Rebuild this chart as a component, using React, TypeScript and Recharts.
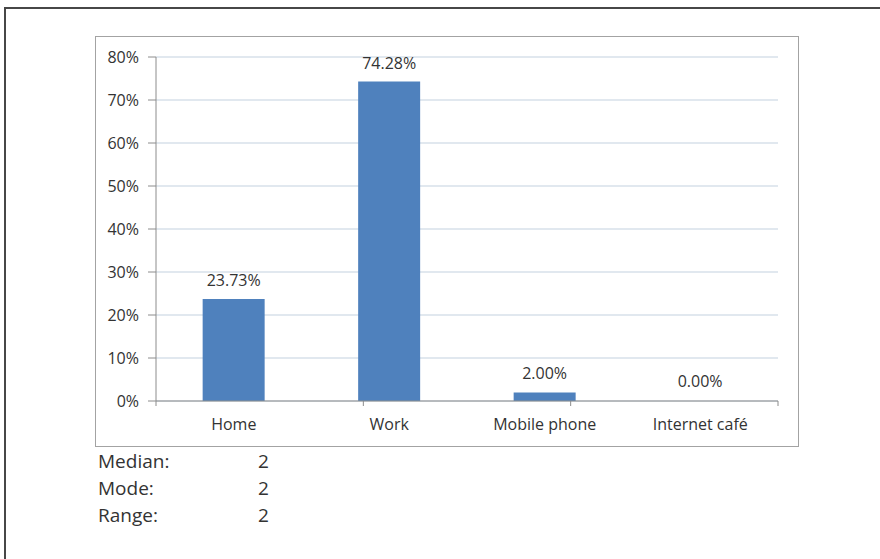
import React from "react";
import {
  BarChart,
  Bar,
  XAxis,
  YAxis,
  CartesianGrid,
  LabelList,
  Cell,
} from "recharts";

const categories = ["Home", "Work", "Mobile phone", "Internet café"];
const shares = [0.2373, 0.7428, 0.02, 0.0];
const yTicks = [0, 0.1, 0.2, 0.3, 0.4, 0.5, 0.6, 0.7, 0.8];
const statLabels = ["Median:", "Mode:", "Range:"];
const statValues = ["2", "2", "2"];

const data = categories.map((name, i) => ({ name, value: shares[i] }));
const boundaryTicks = categories.map((_, i) => i).concat(categories.length);

const TEXT = "#333333";
const FONT = '"Open Sans", sans-serif';

const pct0 = (v: number) => `${Math.round(v * 100)}%`;
const pct2 = (v: any) => `${(Number(v) * 100).toFixed(2)}%`;

export default function App() {
  return (
    <div
      style={{
        position: "absolute",
        left: 0,
        top: 0,
        width: 880,
        height: 559,
        background: "#ffffff",
        overflow: "hidden",
        fontFamily: FONT,
      }}
    >
      {/* outer frame (top and left edges) */}
      <div
        style={{
          position: "absolute",
          left: 4,
          top: 7,
          width: 900,
          height: 600,
          borderTop: "2px solid #474747",
          borderLeft: "2px solid #474747",
        }}
      />
      {/* chart area border */}
      <div
        style={{
          position: "absolute",
          left: 95,
          top: 36,
          width: 702,
          height: 409,
          border: "1px solid #a3a3a3",
        }}
      />
      <div style={{ position: "absolute", left: 95, top: 36 }}>
        <BarChart
          width={703}
          height={410}
          data={data}
          margin={{ top: 21, right: 20, left: 0, bottom: 0 }}
          barCategoryGap="30%"
          style={{ fontFamily: FONT }}
        >
          <CartesianGrid
            xAxisId="cat"
            vertical={false}
            stroke="#c3d1df"
            strokeWidth={1}
          />
          <XAxis
            xAxisId="bounds"
            type="number"
            domain={[0, categories.length]}
            ticks={boundaryTicks}
            allowDataOverflow
            height={1}
            tickFormatter={() => ""}
            tick={{ fontSize: 1 }}
            tickSize={5}
            axisLine={{ stroke: "#8c8c8c" }}
            tickLine={{ stroke: "#8c8c8c" }}
          />
          <XAxis
            xAxisId="cat"
            dataKey="name"
            height={44}
            tickLine={false}
            tickSize={5}
            tickMargin={12}
            axisLine={false}
            tick={{ fill: TEXT, fontSize: 16, fontFamily: FONT }}
            interval={0}
          />
          <YAxis
            width={61}
            domain={[0, 0.8]}
            ticks={yTicks}
            tickFormatter={pct0}
            tickSize={8}
            tickMargin={9}
            axisLine={{ stroke: "#8c8c8c" }}
            tickLine={{ stroke: "#8c8c8c" }}
            tick={{ fill: TEXT, fontSize: 16, fontFamily: FONT }}
            allowDataOverflow
          />
          <Bar
            xAxisId="cat"
            dataKey="value"
            fill="#4f81bd"
            isAnimationActive={false}
            minPointSize={(v: any) => (Number(v) === 0 ? 1 : 0)}
          >
            {data.map((d) => (
              <Cell
                key={d.name}
                fill="#4f81bd"
                fillOpacity={d.value === 0 ? 0 : 1}
              />
            ))}
            <LabelList
              dataKey="value"
              position="top"
              offset={13}
              formatter={pct2}
              style={{ fill: TEXT, fontSize: 16, fontFamily: FONT }}
            />
          </Bar>
        </BarChart>
      </div>
      {statLabels.map((label, i) => (
        <React.Fragment key={label}>
          <div
            style={{
              position: "absolute",
              left: 98,
              top: 452 + i * 27,
              fontSize: 19,
              lineHeight: "19px",
              color: TEXT,
              whiteSpace: "nowrap",
            }}
          >
            {label}
          </div>
          <div
            style={{
              position: "absolute",
              left: 258,
              top: 452 + i * 27,
              fontSize: 19,
              lineHeight: "19px",
              color: TEXT,
            }}
          >
            {statValues[i]}
          </div>
        </React.Fragment>
      ))}
    </div>
  );
}
